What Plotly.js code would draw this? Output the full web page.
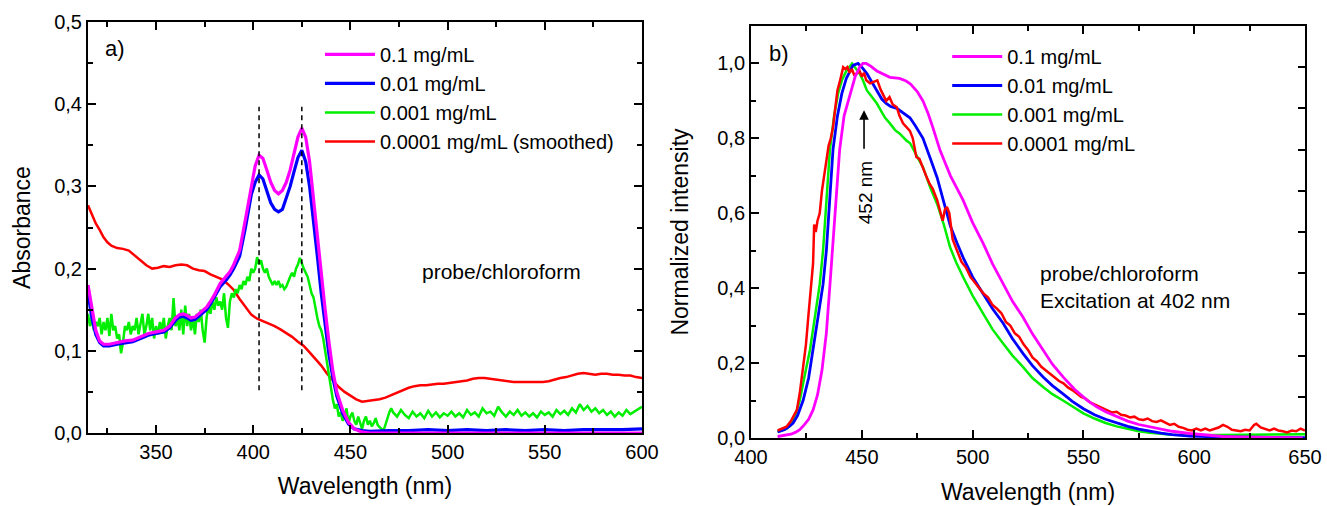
<!DOCTYPE html>
<html>
<head>
<meta charset="utf-8">
<script src="https://cdn.plot.ly/plotly-3.0.1.min.js"></script>
<style>html,body{margin:0;padding:0;background:#fff;}#chart{width:1327px;height:506px;}</style>
</head>
<body>
<div id="chart"></div>
<script>
// ---------- Panel a) absorbance ----------
const absMagX = [315,317,319,321,323,326,330,334,338,342,346,350,354,357,360,362,364,366,368,370,372,374,376,378,380,383,386,388,390,393,396,399,401,403,405,407,409,411,413,415,417,419,421,423,425,427,429,431,433,435,437,439,441,443,446,449,452,456,460,500,550,600];
const absMagY = [0.18,0.15,0.125,0.112,0.108,0.108,0.11,0.112,0.113,0.117,0.121,0.123,0.125,0.13,0.14,0.144,0.145,0.143,0.14,0.141,0.145,0.148,0.153,0.16,0.168,0.182,0.19,0.196,0.205,0.222,0.26,0.30,0.325,0.338,0.334,0.32,0.305,0.295,0.291,0.295,0.305,0.32,0.34,0.36,0.371,0.36,0.33,0.285,0.24,0.19,0.15,0.11,0.075,0.05,0.028,0.013,0.005,0.001,0.0,0.0,0.0,0.0];

const absBlueX = [315,317,319,321,323,326,330,334,338,342,346,350,354,357,360,362,364,366,368,370,372,374,376,378,380,383,386,388,390,393,396,399,401,403,405,407,409,411,413,415,417,419,421,423,425,427,429,431,433,435,437,439,441,443,446,449,452,456,460,470,480,490,500,510,520,530,540,550,560,570,580,590,600];
const absBlueY = [0.17,0.14,0.12,0.11,0.106,0.106,0.108,0.11,0.111,0.115,0.119,0.121,0.123,0.128,0.137,0.141,0.142,0.14,0.137,0.138,0.142,0.145,0.15,0.157,0.165,0.178,0.186,0.192,0.2,0.215,0.25,0.29,0.305,0.314,0.309,0.295,0.28,0.272,0.269,0.272,0.285,0.30,0.318,0.335,0.344,0.33,0.30,0.26,0.215,0.17,0.13,0.095,0.067,0.045,0.024,0.011,0.005,0.003,0.002,0.003,0.003,0.004,0.003,0.004,0.003,0.004,0.003,0.004,0.003,0.004,0.004,0.004,0.005];

const absGreenX = [315,316,317,318,319,320,321,322,323,324,325,326,327,328,329,330,331,332,333,334,335,336,337,338,339,340,341,342,343,344,345,346,347,348,349,350,351,352,353,354,355,356,357,358,359,360,361,362,363,364,365,366,367,368,369,370,371,372,373,374,375,376,377,378,379,380,381,382,383,384,385,386,387,388,389,390,391,392,393,394,395,396,397,398,399,400,401,402,403,404,405,406,407,408,409,410,411,412,413,414,415,416,417,418,419,420,421,422,423,424,425,426,427,428,429,430,431,432,433,434,435,436,437,438,439,440,441,442,443,444,445,446,447,448,449,450,451,452,453,454,455,456,457,458,459,460,461,462,463,464,465,466,467,468,469,470,471,472,474,476,478,480,482,484,486,488,490,492,494,496,498,500,502,504,506,508,510,512,514,516,518,520,522,524,526,528,530,532,534,536,538,540,542,544,546,548,550,552,554,556,558,560,562,564,566,568,570,572,574,576,578,580,582,584,586,588,590,592,594,596,598,600];
const absGreenY = [0.145,0.13,0.14,0.125,0.135,0.13,0.14,0.12,0.135,0.125,0.14,0.118,0.145,0.125,0.13,0.115,0.12,0.097,0.11,0.13,0.125,0.135,0.12,0.13,0.125,0.14,0.12,0.135,0.145,0.12,0.13,0.145,0.125,0.14,0.115,0.13,0.12,0.135,0.125,0.14,0.115,0.13,0.14,0.125,0.164,0.13,0.14,0.125,0.15,0.12,0.155,0.13,0.145,0.125,0.14,0.12,0.145,0.135,0.15,0.125,0.11,0.14,0.155,0.145,0.16,0.15,0.165,0.155,0.16,0.15,0.17,0.14,0.128,0.16,0.17,0.165,0.175,0.17,0.18,0.175,0.185,0.18,0.19,0.185,0.2,0.195,0.2,0.214,0.205,0.21,0.2,0.195,0.2,0.19,0.185,0.18,0.185,0.18,0.185,0.178,0.18,0.175,0.178,0.185,0.19,0.195,0.19,0.2,0.205,0.213,0.205,0.2,0.195,0.19,0.18,0.17,0.165,0.15,0.14,0.13,0.125,0.115,0.1,0.085,0.07,0.05,0.04,0.03,0.035,0.02,0.025,0.015,0.02,0.03,0.012,0.02,0.025,0.015,0.01,0.02,0.012,0.005,0.015,0.02,0.01,0.015,0.008,0.012,0.018,0.01,0.007,0.005,0.003,0.01,0.018,0.025,0.03,0.025,0.02,0.028,0.022,0.018,0.026,0.02,0.024,0.018,0.027,0.02,0.025,0.019,0.024,0.021,0.026,0.02,0.024,0.019,0.028,0.022,0.025,0.02,0.03,0.024,0.026,0.021,0.032,0.025,0.02,0.026,0.022,0.028,0.021,0.025,0.02,0.024,0.019,0.026,0.022,0.025,0.02,0.028,0.023,0.027,0.022,0.03,0.025,0.035,0.028,0.033,0.026,0.03,0.024,0.028,0.022,0.026,0.02,0.025,0.021,0.028,0.023,0.026,0.028,0.032];

const absRedX = [315,317,319,321,323,325,327,330,333,336,339,342,345,348,351,354,357,360,363,366,369,372,375,378,381,384,387,390,393,396,399,402,405,408,411,414,417,420,423,426,429,432,435,438,441,444,447,450,453,456,459,462,465,468,471,474,477,480,483,486,489,492,495,498,501,504,507,510,513,516,519,522,525,528,531,534,537,540,543,546,549,552,555,558,561,564,567,570,573,576,579,582,585,588,591,594,597,600];
const absRedY = [0.277,0.265,0.255,0.247,0.238,0.232,0.228,0.225,0.224,0.222,0.216,0.21,0.204,0.2,0.201,0.203,0.202,0.204,0.205,0.204,0.2,0.198,0.197,0.193,0.19,0.187,0.181,0.174,0.163,0.153,0.144,0.139,0.136,0.133,0.13,0.126,0.122,0.117,0.111,0.106,0.098,0.09,0.082,0.072,0.064,0.056,0.05,0.045,0.041,0.038,0.039,0.04,0.041,0.043,0.046,0.049,0.052,0.055,0.057,0.058,0.058,0.059,0.06,0.06,0.061,0.062,0.063,0.064,0.066,0.067,0.067,0.066,0.065,0.064,0.063,0.062,0.062,0.062,0.062,0.062,0.062,0.063,0.065,0.067,0.068,0.07,0.072,0.073,0.072,0.071,0.072,0.072,0.071,0.071,0.07,0.07,0.068,0.067];

const peakWavelengths = [403, 425];
const peakLineSpan = [0.052, 0.397];

// ---------- Panel b) normalized emission ----------
const emMagX = [412,415,418,420,422,424,426,428,430,432,434,436,438,440,442,444.7,447,449,450.5,452,454,456.8,460,462.7,467,470,472,475,477.6,480,482,485.3,490,495.7,500,504.7,509,513.7,518,522.7,527,531.8,536,540.8,546,551.6,556,560,565,570,575,580,585,590,598,605,613,620,630,640,649];
const emMagY = [0.004,0.006,0.01,0.015,0.022,0.035,0.05,0.075,0.115,0.18,0.28,0.44,0.6,0.77,0.86,0.92,0.965,0.99,1.0,1.0,0.993,0.98,0.97,0.963,0.96,0.953,0.945,0.925,0.9,0.865,0.83,0.768,0.70,0.635,0.575,0.52,0.465,0.413,0.365,0.323,0.278,0.235,0.197,0.163,0.13,0.101,0.083,0.07,0.057,0.045,0.036,0.03,0.023,0.018,0.012,0.008,0.004,0.003,0.002,0.001,0.0];

const emBlueX = [412,415,417,419,421,423.5,426,428,430,432.5,434,435.5,437,439,441,443,446,448.3,450,452.3,454,456.8,459,461,463,465.8,468,471.7,474,477.6,481,484,487,490,493,496,500,504.7,509,513.7,518,522.7,527,531.8,536,540.8,545,550,555,560,565,570,575,580,585,590,598,610,625,650];
const emBlueY = [0.016,0.022,0.03,0.04,0.06,0.10,0.16,0.235,0.32,0.41,0.5,0.64,0.77,0.86,0.92,0.96,0.995,1.0,0.99,0.973,0.955,0.928,0.905,0.893,0.885,0.88,0.87,0.855,0.835,0.80,0.745,0.695,0.63,0.565,0.52,0.478,0.43,0.387,0.345,0.307,0.265,0.226,0.193,0.163,0.14,0.118,0.098,0.078,0.062,0.05,0.04,0.031,0.024,0.018,0.013,0.009,0.005,0.003,0.002,0.001];

const emGreenX = [412,414,416,418,419,420.5,422,424,426.6,429,431,432.5,434,435.6,437.5,439.3,441,443,445.6,447,449,450.5,452.3,454,456.8,459,460.5,462.7,464,465,467,469,470,471.8,474,476,477.6,480.8,484,487,489.8,492.5,495.7,500,504.7,509,513.7,518,522.7,527,531.8,536,540.8,546,550,555,560,565,570,575,580,585,590,600,610,620,630,640,650];
const emGreenY = [0.016,0.02,0.025,0.035,0.047,0.07,0.10,0.16,0.235,0.33,0.41,0.5,0.64,0.77,0.86,0.92,0.955,0.98,1.0,0.99,0.973,0.955,0.928,0.915,0.893,0.87,0.855,0.84,0.83,0.822,0.813,0.8,0.795,0.787,0.76,0.74,0.723,0.67,0.625,0.57,0.51,0.47,0.43,0.38,0.333,0.29,0.253,0.22,0.19,0.16,0.136,0.117,0.1,0.08,0.066,0.052,0.04,0.031,0.024,0.018,0.014,0.011,0.009,0.007,0.008,0.007,0.008,0.009,0.01];

const emRedX = [412,414,416,418,419.5,420.7,422,423.6,424.8,425.8,427,428,428.5,429.2,430,431,432,433,434,435,436,437,438,439,440,441,441.6,442.5,443.5,444.5,445.5,446.5,447.8,449,450,451,452,453.7,455,457,458.5,460,461,462.5,464,465.8,467,468.6,470,471.7,473,474.6,476,477.5,479,480.5,482,484,485.5,486.5,487.5,488.4,489.5,491,493,495,497,499,501,503,505,507,509,511,513,515,517,519,521,523,525,527,529,531,533,535,537,539,541,543,545,547,549,551,553,555,557,559,561,563,565,567,569,571,573,575,577,579,581,583,585,587,589,591,593,595,597,599,601,603,605,607,609,611,613,615,617,619,621,623,625,627,628,630,632,634,636,638,640,642,644,646,648,650];
const emRedY = [0.02,0.025,0.03,0.045,0.06,0.075,0.12,0.19,0.25,0.32,0.4,0.466,0.57,0.55,0.58,0.6,0.66,0.7,0.74,0.78,0.80,0.83,0.88,0.928,0.95,0.975,0.99,0.985,0.99,0.975,0.985,0.97,0.973,0.98,0.965,0.975,0.955,0.947,0.95,0.955,0.93,0.91,0.90,0.91,0.89,0.883,0.86,0.84,0.83,0.82,0.8,0.75,0.745,0.72,0.70,0.68,0.665,0.635,0.6,0.58,0.61,0.617,0.6,0.53,0.5,0.47,0.455,0.43,0.415,0.40,0.385,0.375,0.355,0.345,0.333,0.31,0.3,0.28,0.27,0.25,0.235,0.215,0.205,0.19,0.18,0.17,0.162,0.152,0.146,0.135,0.128,0.12,0.11,0.105,0.095,0.09,0.085,0.078,0.075,0.068,0.07,0.062,0.06,0.055,0.057,0.05,0.048,0.052,0.045,0.043,0.047,0.04,0.035,0.038,0.03,0.027,0.022,0.02,0.025,0.02,0.025,0.02,0.023,0.028,0.035,0.03,0.022,0.02,0.018,0.022,0.02,0.035,0.038,0.028,0.025,0.02,0.025,0.02,0.018,0.015,0.02,0.018,0.025,0.02];

const legendLabelsA = ['0.1 mg/mL','0.01 mg/mL','0.001 mg/mL','0.0001 mg/mL (smoothed)'];
const legendLabelsB = ['0.1 mg/mL','0.01 mg/mL','0.001 mg/mL','0.0001 mg/mL'];
const colors = {mag:'#ff00ff', blue:'#0000ff', green:'#00ee00', red:'#ff0000'};

const FONT = '"Liberation Sans", Arial, sans-serif';

function line(x, y, name, color, width, xa, ya, leg, rank) {
  return {x:x, y:y, name:name, type:'scatter', mode:'lines', xaxis:xa, yaxis:ya,
    line:{color:color, width:width}, legend:leg, legendrank:rank, hoverinfo:'skip'};
}

const data = [
  line(absRedX, absRedY, legendLabelsA[3], colors.red, 2.5, 'x', 'y', 'legend', 4),
  line(absGreenX, absGreenY, legendLabelsA[2], colors.green, 2.5, 'x', 'y', 'legend', 3),
  line(absBlueX, absBlueY, legendLabelsA[1], colors.blue, 3.2, 'x', 'y', 'legend', 2),
  line(absMagX, absMagY, legendLabelsA[0], colors.mag, 3.2, 'x', 'y', 'legend', 1),
  line(emGreenX, emGreenY, legendLabelsB[2], colors.green, 2.5, 'x2', 'y2', 'legend2', 3),
  line(emBlueX, emBlueY, legendLabelsB[1], colors.blue, 2.8, 'x2', 'y2', 'legend2', 2),
  line(emRedX, emRedY, legendLabelsB[3], colors.red, 2.5, 'x2', 'y2', 'legend2', 4),
  line(emMagX, emMagY, legendLabelsB[0], colors.mag, 2.8, 'x2', 'y2', 'legend2', 1),
  {x:[], y:[], xaxis:'x2', yaxis:'y3', type:'scatter', mode:'lines', showlegend:false, hoverinfo:'skip'}
];

// dashed peak markers built from the peak array
peakWavelengths.forEach(w => {
  data.push({x:[w, w], y:peakLineSpan, xaxis:'x', yaxis:'y', type:'scatter', mode:'lines',
    line:{color:'#000', width:1.5, dash:'5px,4px'}, showlegend:false, hoverinfo:'skip'});
});

const axBase = {
  showline:true, linecolor:'#000', linewidth:2, mirror:'ticks',
  ticks:'inside', ticklen:8, tickwidth:2, tickcolor:'#000',
  showgrid:false, zeroline:false, automargin:false,
  tickfont:{family:FONT, size:20, color:'#000'},
};
function ax(extra){ return Object.assign({}, axBase, extra); }

const layout = {
  width:1327, height:506,
  margin:{l:88, r:22, t:22, b:68},
  paper_bgcolor:'#fff', plot_bgcolor:'rgba(0,0,0,0)',
  separators:', ',
  font:{family:FONT, color:'#000'},
  showlegend:true,
  xaxis: ax({domain:[0, 0.4552], range:[315,600], dtick:50, tick0:0, anchor:'y',
    minor:{dtick:25, ticks:'inside', ticklen:5, tickwidth:2, tickcolor:'#000'},
    title:{text:'Wavelength (nm)', font:{family:FONT, size:23, color:'#000'}, standoff:16}}),
  yaxis: ax({domain:[0.012, 1.0], range:[0,0.5], dtick:0.1, tick0:0, tickformat:'.1f', anchor:'x',
    minor:{dtick:0.05, ticks:'inside', ticklen:5, tickwidth:2, tickcolor:'#000'},
    title:{text:'Absorbance', font:{family:FONT, size:23, color:'#000'}, standoff:17}}),
  xaxis2: ax({domain:[0.5448, 1.0], range:[400,650], dtick:50, tick0:0, anchor:'y2',
    minor:{dtick:25, ticks:'inside', ticklen:5, tickwidth:2, tickcolor:'#000'},
    title:{text:'Wavelength (nm)', font:{family:FONT, size:23, color:'#000'}, standoff:17}}),
  yaxis2: ax({domain:[0, 0.9904], range:[0,1.1], dtick:0.2, tick0:0, tickformat:'.1f', anchor:'x2', mirror:true,
    minor:{dtick:0.1, ticks:'inside', ticklen:5, tickwidth:2, tickcolor:'#000'},
    title:{text:'Normalized intensity', font:{family:FONT, size:23, color:'#000'}, standoff:22}}),
  yaxis3: {overlaying:'y2', side:'right', anchor:'x2', range:[0,1], dtick:0.1, tick0:0,
    ticks:'inside', ticklen:7, tickwidth:2, tickcolor:'#000', showticklabels:false,
    showline:false, showgrid:false, zeroline:false},
  legend: {x:0.1906, y:0.969, xanchor:'left', yanchor:'top', bgcolor:'rgba(0,0,0,0)', borderwidth:0,
    font:{family:FONT, size:20, color:'#000'}, itemwidth:50, tracegroupgap:0},
  legend2: {x:0.706, y:0.964, xanchor:'left', yanchor:'top', bgcolor:'rgba(0,0,0,0)', borderwidth:0,
    font:{family:FONT, size:20, color:'#000'}, itemwidth:50, tracegroupgap:0},
  annotations: [
    {xref:'x', yref:'y', x:322.7, y:0.468, xanchor:'left', yanchor:'middle', text:'a)', showarrow:false,
      font:{family:FONT, size:22, color:'#000'}},
    {xref:'x', yref:'y', x:527.5, y:0.197, xanchor:'center', yanchor:'middle', text:'probe/chloroform', showarrow:false,
      font:{family:FONT, size:21, color:'#000'}},
    {xref:'x2', yref:'y2', x:407.2, y:1.027, xanchor:'left', yanchor:'middle', text:'b)', showarrow:false,
      font:{family:FONT, size:22, color:'#000'}},
    {xref:'x2', yref:'y2', x:529.5, y:0.404, xanchor:'left', yanchor:'middle', align:'left',
      text:'probe/chloroform<br>Excitation at 402 nm', showarrow:false,
      font:{family:FONT, size:21, color:'#000'}},
    {xref:'x2', yref:'y2', x:451.4, y:0.656, textangle:-90, text:'452 nm', showarrow:false,
      font:{family:FONT, size:19, color:'#000'}},
    {xref:'x2', yref:'y2', axref:'x2', ayref:'y2', x:451, y:0.875, ax:451, ay:0.768, text:'',
      showarrow:true, arrowhead:2, arrowsize:1.2, arrowwidth:1.6, arrowcolor:'#000', standoff:0, startstandoff:0}
  ]
};

Plotly.newPlot('chart', data, layout, {staticPlot:true, displayModeBar:false});
</script>
</body>
</html>
